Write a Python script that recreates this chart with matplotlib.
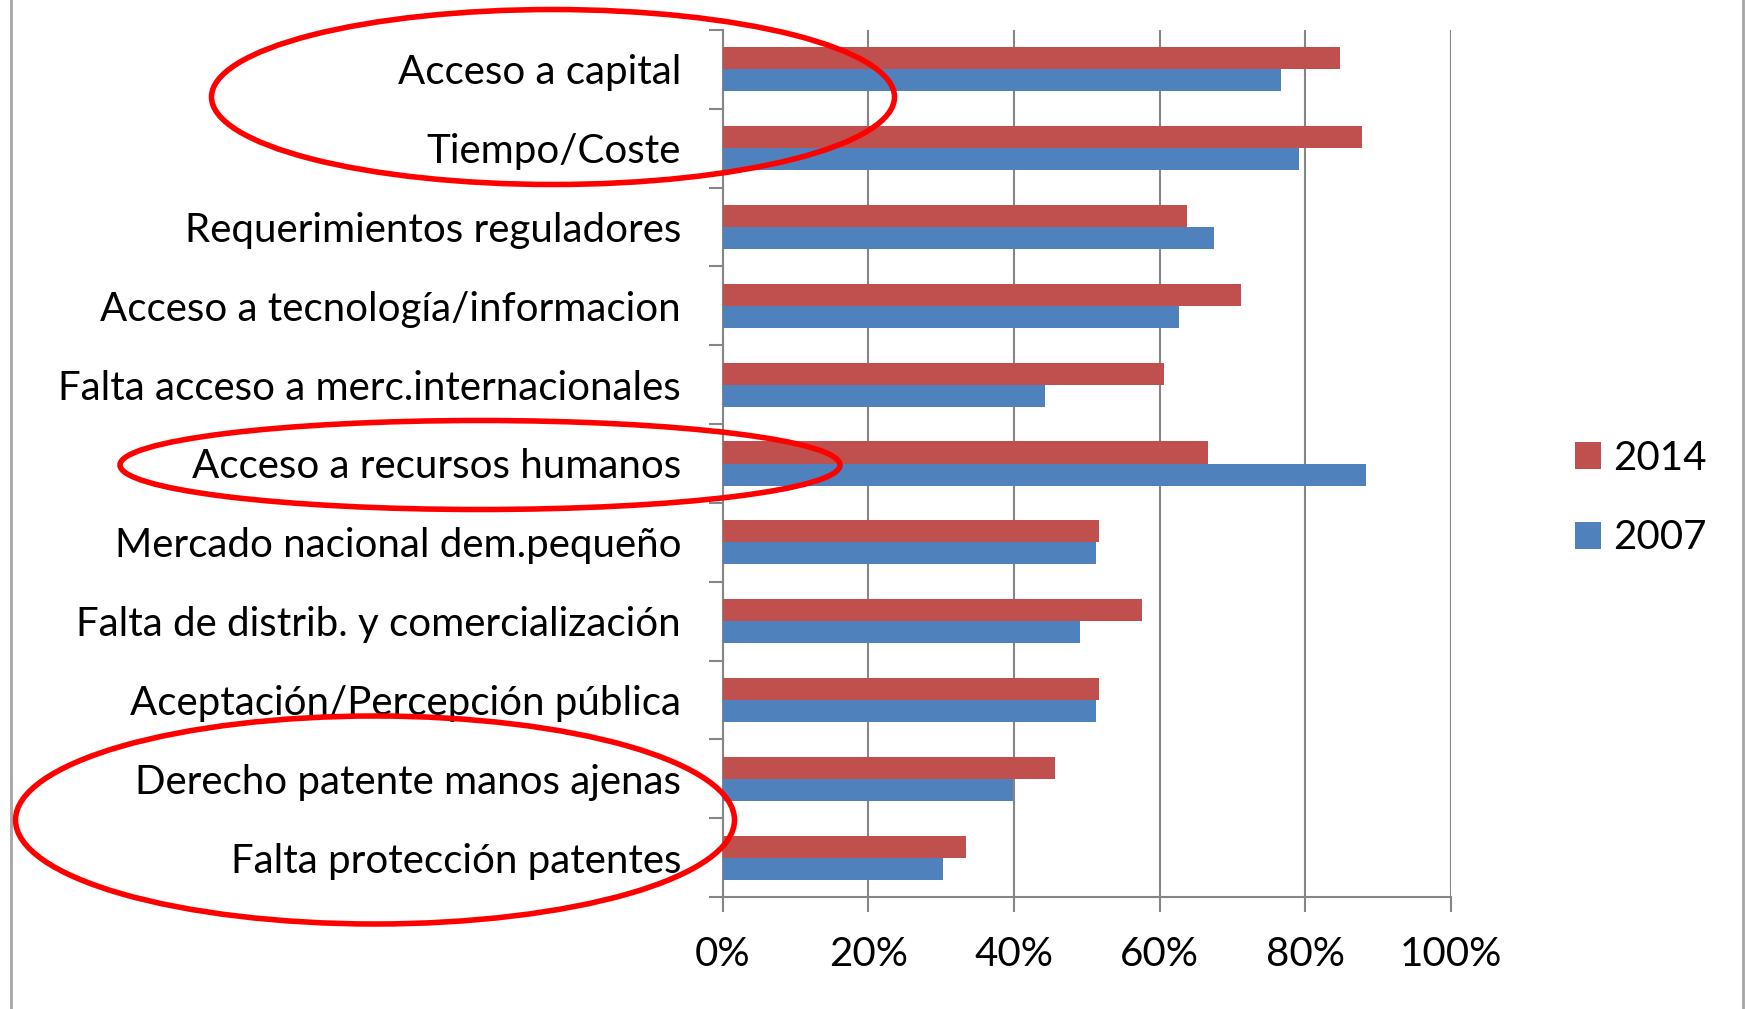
import matplotlib
matplotlib.use("Agg")
import matplotlib.pyplot as plt
from matplotlib.patches import Ellipse
from matplotlib.ticker import FixedLocator, PercentFormatter
import numpy as np

categories = [
    "Acceso a capital",
    "Tiempo/Coste",
    "Requerimientos reguladores",
    "Acceso a tecnología/informacion",
    "Falta acceso a merc.internacionales",
    "Acceso a recursos humanos",
    "Mercado nacional dem.pequeño",
    "Falta de distrib. y comercialización",
    "Aceptación/Percepción pública",
    "Derecho patente manos ajenas",
    "Falta protección patentes",
]
vals_2014 = [84.8, 87.8, 63.7, 71.2, 60.6, 66.7, 51.6, 57.6, 51.6, 45.6, 33.4]
vals_2007 = [76.6, 79.1, 67.5, 62.7, 44.2, 88.3, 51.3, 49.0, 51.3, 39.9, 30.3]
xticks = [0, 20, 40, 60, 80, 100]

RED = "#C0504D"
BLUE = "#4F81BD"
GRID = "#868686"
FONT = "Lato"
FS = 29

W, H = 1746, 1009
fig = plt.figure(figsize=(W / 100, H / 100), dpi=100)
ax = fig.add_axes([722.7 / W, 1 - 897 / H, (1451 - 722.7) / W, (897 - 30) / H])

y = np.arange(len(categories))
bh = 0.28
ax.barh(y - bh / 2, vals_2014, height=bh, color=RED, label="2014", zorder=3)
ax.barh(y + bh / 2, vals_2007, height=bh, color=BLUE, label="2007", zorder=3)

ax.set_xlim(0, 100)
ax.set_ylim(len(categories) - 0.5, -0.5)
ax.set_xticks(xticks)
ax.xaxis.set_major_formatter(PercentFormatter(decimals=0))
ax.grid(axis="x", color=GRID, linewidth=1.5, zorder=0)
ax.set_yticks(y)
ax.set_yticklabels(categories, fontsize=FS, family=FONT, color="#000000")
ax.yaxis.set_minor_locator(FixedLocator(np.arange(-0.5, len(categories), 1)))
ax.tick_params(axis="y", which="major", length=0, pad=30)
ax.tick_params(axis="y", which="minor", length=10, width=1.5, color=GRID, direction="out")
ax.tick_params(axis="x", length=11, width=1.5, color=GRID, pad=17, labelsize=FS)
for lab in ax.get_xticklabels():
    lab.set_family(FONT)
    lab.set_color("#000000")

for s in ["top", "right"]:
    ax.spines[s].set_visible(False)
for s in ["left", "bottom"]:
    ax.spines[s].set_color(GRID)
    ax.spines[s].set_linewidth(1.5)

leg = fig.legend(loc="center left", bbox_to_anchor=(1555 / W, 1 - 498 / H),
                 frameon=False, prop={"family": FONT, "size": FS},
                 handlelength=0.65, handleheight=0.65, handletextpad=0.3,
                 labelspacing=1.06, borderpad=0)

# chart frame borders left/right
fig.add_artist(plt.Line2D([11 / W, 11 / W], [0, 1], transform=fig.transFigure, color="#a6a6a6", lw=2))
fig.add_artist(plt.Line2D([1743 / W, 1743 / W], [0, 1], transform=fig.transFigure, color="#a6a6a6", lw=2))

# red annotation ellipses (pixel centre, width, height)
ellipses = [(553, 97, 683, 175), (480, 465, 720, 89), (375, 820, 719, 208)]
for cx, cy, ew, eh in ellipses:
    fig.add_artist(Ellipse((cx / W, 1 - cy / H), ew / W, eh / H, transform=fig.transFigure,
                           fill=False, edgecolor="#FF0000", linewidth=4, zorder=10))

fig.savefig("out.png", dpi=100)
